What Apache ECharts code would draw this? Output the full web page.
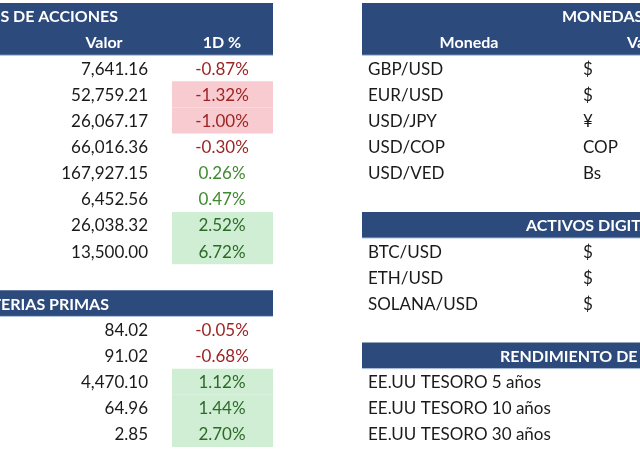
<!DOCTYPE html>
<html>
<head>
<meta charset="utf-8">
<script src="https://cdn.jsdelivr.net/npm/echarts@6/dist/echarts.min.js"></script>
<style>html,body{margin:0;padding:0;background:#fff}#c{width:640px;height:450px}</style>
</head>
<body>
<div id="c"></div>
<script>
// ---- DATA ----
const indicesTitle = 'ÍNDICES DE ACCIONES';
const indicesHeaders = ['Valor', '1D %'];
const indicesValues = [7641.16, 52759.21, 26067.17, 66016.36, 167927.15, 6452.56, 26038.32, 13500.00];
const indicesChange = [-0.87, -1.32, -1.00, -0.30, 0.26, 0.47, 2.52, 6.72];

const commoditiesTitle = 'MATERIAS PRIMAS';
const commoditiesValues = [84.02, 91.02, 4470.10, 64.96, 2.85];
const commoditiesChange = [-0.05, -0.68, 1.12, 1.44, 2.70];

const currencyTitle = 'MONEDAS';
const currencyHeaders = ['Moneda', 'Valor'];
const currencyPairs = ['GBP/USD', 'EUR/USD', 'USD/JPY', 'USD/COP', 'USD/VED'];
const currencySymbols = ['$', '$', '¥', 'COP', 'Bs'];

const cryptoTitle = 'ACTIVOS DIGITALES';
const cryptoPairs = ['BTC/USD', 'ETH/USD', 'SOLANA/USD'];
const cryptoSymbols = ['$', '$', '$'];

const bondsTitle = 'RENDIMIENTO DE BONOS';
const bondsNames = ['EE.UU TESORO 5 años', 'EE.UU TESORO 10 años', 'EE.UU TESORO 30 años'];

// ---- LAYOUT / STYLE ----
const ROWS = 17;
const L = {
  leftBand: [0, 273], rightBand: [362, 660],
  valRight: 148, pctCenter: 222, pctCell: [172, 273],
  valorHead: 104, pctHead: 222,
  nameLeft: 368, symLeft: 583, monedaHead: 469, valorHead2: 627,
  indTitleRight: 118, matTitleRight: 109, monTitleLeft: 562, actTitleLeft: 526, rendTitleLeft: 500
};
const C = {
  band: '#2D4A7C', bandLine: '#B4C6E0', white: '#FFFFFF', text: '#1A1A1A',
  red: '#9C2424', green: '#3E8A2F', darkGreen: '#2D6A28',
  redFill: '#F8CBD0', greenFill: '#CFEED4'
};
const FONT = 'Lato, "Open Sans", sans-serif';
const BODY_SIZE = 17, HEAD_SIZE = 16;

const fmtNum = v => v.toLocaleString('en-US', {minimumFractionDigits: 2, maximumFractionDigits: 2});
const fmtPct = v => v.toFixed(2) + '%';

// ---- build cells ----
const bands = [];   // {x0,x1,r0,r1,color,line}
const texts = [];   // {x,row,text,align,color,bold}

function header(x0, x1, r0, r1) { bands.push({x0, x1, r0, r1, color: C.band, line: true}); }

// Indices table
header(L.leftBand[0], L.leftBand[1], 0, 1);
texts.push({x: L.indTitleRight, row: 0, text: indicesTitle, align: 'right', color: C.white, bold: true});
texts.push({x: L.valorHead, row: 1, text: indicesHeaders[0], align: 'center', color: C.white, bold: true});
texts.push({x: L.pctHead, row: 1, text: indicesHeaders[1], align: 'center', color: C.white, bold: true});

function changeRows(values, changes, startRow) {
  values.forEach((v, i) => {
    const row = startRow + i, ch = changes[i];
    const strong = Math.abs(ch) >= 1;
    if (strong) bands.push({x0: L.pctCell[0], x1: L.pctCell[1], r0: row, r1: row, color: ch < 0 ? C.redFill : C.greenFill});
    texts.push({x: L.valRight, row, text: fmtNum(v), align: 'right', color: C.text});
    texts.push({x: L.pctCenter, row, text: fmtPct(ch), align: 'center',
      color: ch < 0 ? C.red : (strong ? C.darkGreen : C.green)});
  });
}
changeRows(indicesValues, indicesChange, 2);

// Commodities table
header(L.leftBand[0], L.leftBand[1], 11, 11);
texts.push({x: L.matTitleRight, row: 11, text: commoditiesTitle, align: 'right', color: C.white, bold: true});
changeRows(commoditiesValues, commoditiesChange, 12);

// Currencies
header(L.rightBand[0], L.rightBand[1], 0, 1);
texts.push({x: L.monTitleLeft, row: 0, text: currencyTitle, align: 'left', color: C.white, bold: true});
texts.push({x: L.monedaHead, row: 1, text: currencyHeaders[0], align: 'center', color: C.white, bold: true});
texts.push({x: L.valorHead2, row: 1, text: currencyHeaders[1], align: 'left', color: C.white, bold: true});
currencyPairs.forEach((p, i) => {
  texts.push({x: L.nameLeft, row: 2 + i, text: p, align: 'left', color: C.text});
  texts.push({x: L.symLeft, row: 2 + i, text: currencySymbols[i], align: 'left', color: C.text});
});

// Crypto
header(L.rightBand[0], L.rightBand[1], 8, 8);
texts.push({x: L.actTitleLeft, row: 8, text: cryptoTitle, align: 'left', color: C.white, bold: true});
cryptoPairs.forEach((p, i) => {
  texts.push({x: L.nameLeft, row: 9 + i, text: p, align: 'left', color: C.text});
  texts.push({x: L.symLeft, row: 9 + i, text: cryptoSymbols[i], align: 'left', color: C.text});
});

// Bonds
header(L.rightBand[0], L.rightBand[1], 13, 13);
texts.push({x: L.rendTitleLeft, row: 13, text: bondsTitle, align: 'left', color: C.white, bold: true});
bondsNames.forEach((n, i) => {
  texts.push({x: L.nameLeft, row: 14 + i, text: n, align: 'left', color: C.text});
});

const rowCats = Array.from({length: ROWS}, (_, i) => String(i));

const chart = echarts.init(document.getElementById('c'), null, {renderer: 'canvas'});
chart.setOption({
  animation: false,
  backgroundColor: '#fff',
  grid: {left: 0, right: 0, top: 3, bottom: 3},
  xAxis: {type: 'value', min: 0, max: 640, show: false},
  yAxis: {type: 'category', data: rowCats, inverse: true, show: false},
  series: [
    {
      type: 'custom',
      clip: false,
      data: bands.map((b, i) => [b.x0, b.r0, b.x1, b.r1, i]),
      renderItem: function (params, api) {
        const b = bands[params.dataIndex];
        const p0 = api.coord([api.value(0), api.value(1)]);
        const p1 = api.coord([api.value(2), api.value(3)]);
        const h = api.size([0, 1])[1];
        const y0 = p0[1] - h / 2, y1 = p1[1] + h / 2;
        const children = [{
          type: 'rect',
          shape: {x: p0[0], y: y0, width: p1[0] - p0[0], height: y1 - y0},
          style: {fill: b.color}
        }];
        if (b.line) children.push({
          type: 'line',
          shape: {x1: p0[0], y1: y1, x2: p1[0], y2: y1},
          style: {stroke: C.bandLine, lineWidth: 1}
        });
        return {type: 'group', children};
      }
    },
    {
      type: 'custom',
      clip: false,
      data: texts.map((t, i) => [t.x, t.row, i]),
      renderItem: function (params, api) {
        const t = texts[params.dataIndex];
        const p = api.coord([api.value(0), api.value(1)]);
        return {
          type: 'text',
          x: p[0], y: p[1] + 1,
          style: {
            text: t.text, fill: t.color,
            font: (t.bold ? 'bold ' + HEAD_SIZE : BODY_SIZE) + 'px ' + FONT,
            align: t.align, verticalAlign: 'middle'
          }
        };
      }
    }
  ]
});
</script>
</body>
</html>
